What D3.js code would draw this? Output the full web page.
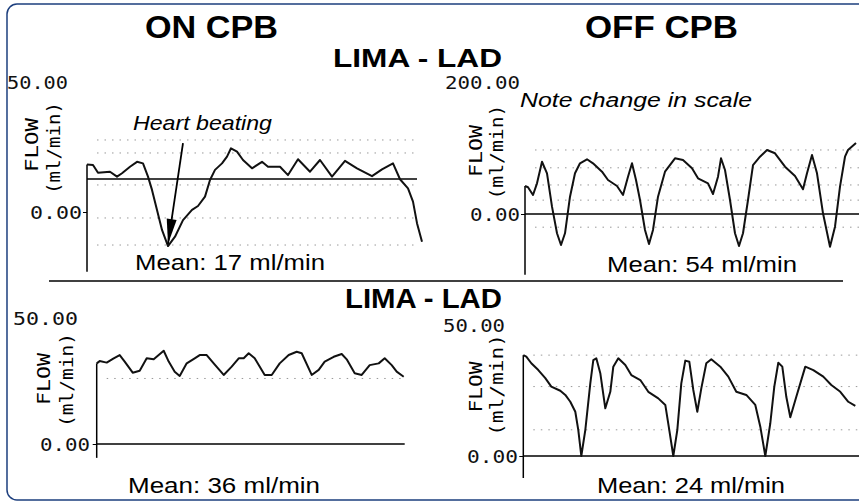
<!DOCTYPE html>
<meta charset="utf-8">
<style>
  body { margin: 0; background: #fff; }
  svg { display: block; }
  .mono { font-family: "DejaVu Sans Mono", monospace; }
  .sans { font-family: "Liberation Sans", Arial, sans-serif; }
</style>
<svg width="859" height="504"></svg>
<script src="https://cdn.jsdelivr.net/npm/d3@7"></script>
<script>

// flow traces: time in seconds, flow in ml/min
var onTopTime = [0.00,0.06,0.11,0.23,0.30,0.35,0.43,0.50,0.56,0.61,0.65,0.70,0.75,0.81,0.88,0.96,1.05,1.11,1.18,1.23,1.28,1.35,1.40,1.44,1.50,1.56,1.65,1.75,1.81,1.93,2.01,2.11,2.23,2.33,2.45,2.58,2.70,2.85,2.95,3.06,3.13,3.21,3.26,3.30,3.35],
    onTopFlow = [18.3,18.1,15.1,15.5,13.6,14.9,17.4,19.3,18.7,13.6,8.5,0.8,-6.9,-13.1,-9.5,-3.1,0.8,2.3,5.9,12.3,16.2,18.7,21.3,24.5,23.2,20.0,16.8,19.3,17.4,17.4,14.2,20.3,15.5,20.0,13.6,19.7,16.8,13.8,16.4,18.7,12.6,9.1,4.0,-4.3,-11.4];

var offTopTime = [0.00,0.03,0.08,0.12,0.17,0.22,0.27,0.32,0.36,0.40,0.45,0.50,0.55,0.62,0.68,0.77,0.83,0.92,0.98,1.03,1.07,1.11,1.15,1.20,1.24,1.28,1.33,1.40,1.50,1.58,1.67,1.73,1.83,1.88,1.93,1.96,2.00,2.05,2.10,2.14,2.18,2.23,2.28,2.35,2.42,2.50,2.60,2.70,2.78,2.82,2.87,2.92,2.98,3.05,3.10,3.15,3.20,3.23,3.31],
    offTopFlow = [42.4,40.5,28.8,46.5,79.2,61.7,11.1,-29.2,-47.0,-29.2,26.2,61.7,76.8,82.9,76.8,64.1,51.5,42.4,28.8,56.5,76.8,51.5,21.2,-24.2,-45.5,-24.2,26.2,64.1,84.4,81.8,69.2,54.1,46.5,30.3,56.5,84.4,66.7,21.2,-29.2,-48.5,-29.2,21.2,74.2,86.8,97.0,92.0,71.7,57.6,37.4,61.7,89.4,61.7,1.1,-49.5,-19.2,41.4,86.8,97.0,107.6];

var onBotTime = [0.00,0.03,0.10,0.17,0.23,0.28,0.36,0.43,0.50,0.57,0.62,0.67,0.72,0.78,0.83,0.90,0.98,1.03,1.10,1.17,1.27,1.35,1.42,1.47,1.52,1.58,1.68,1.75,1.83,1.92,2.00,2.05,2.15,2.22,2.28,2.37,2.45,2.50,2.58,2.65,2.73,2.82,2.88,2.95,3.00,3.07],
    onBotFlow = [32.0,32.9,32.3,34.0,35.3,32.7,28.3,29.1,34.0,33.6,35.3,37.0,32.7,28.7,27.0,32.0,34.0,35.3,35.3,32.0,27.4,30.7,34.0,34.0,36.0,34.0,27.4,27.4,32.0,35.3,36.6,36.0,27.4,29.4,32.7,34.6,35.7,33.6,28.1,27.4,31.3,32.0,34.0,31.3,28.7,26.7];

var offBotTime = [0.00,0.03,0.08,0.15,0.22,0.28,0.37,0.42,0.47,0.52,0.55,0.58,0.62,0.67,0.70,0.73,0.77,0.82,0.87,0.90,0.95,1.02,1.08,1.17,1.25,1.35,1.42,1.46,1.50,1.54,1.58,1.62,1.66,1.70,1.74,1.78,1.83,1.88,1.97,2.05,2.13,2.23,2.32,2.37,2.42,2.47,2.51,2.55,2.59,2.63,2.67,2.73,2.82,2.90,3.00,3.08,3.17,3.25,3.32],
    offBotFlow = [38.5,37.9,35.4,32.8,29.7,26.5,24.9,23.3,20.7,16.9,9.9,0.0,9.9,27.7,36.6,37.3,31.6,18.2,24.5,34.1,37.3,34.7,30.9,29.0,24.5,22.0,19.5,9.9,0.0,9.9,27.7,36.4,36.0,25.2,16.9,25.8,35.4,36.9,34.1,30.3,24.5,23.3,19.5,11.2,0.0,12.5,26.5,35.6,34.1,22.6,14.8,22.6,34.1,32.8,30.3,27.1,24.5,20.7,19.1];

// axis tick labels and baselines
var onTopTicks = [50, 0], offTopTicks = [200, 0], onBotTicks = [50, 0], offBotTicks = [50, 0];
var tickText = {50: "50.00", 200: "200.00", 0: "0.00"};
var baseFlow = [12.7, 0, 0, 0];          // level of the horizontal reference line
var sweepEnd = [3.30, 3.34, 3.08, 3.36]; // where that line stops (s)
var axisRange = [[18.3, -23], [42.4, -92], [32.0, -5.5], [38.5, -8.4]];
var gridFlow = [[27.7, 22.7, 10.4, -2.3, -12.7], [97, 70, 44, 21, -20], [26], [38.5, 26.5, 10]];
var means = ["Mean: 17 ml/min", "Mean: 54 ml/min", "Mean: 36 ml/min", "Mean: 24 ml/min"];

var svg = d3.select("svg");

// frame
svg.append("rect")
    .attr("x", 7).attr("y", 4).attr("width", 880).attr("height", 496)
    .attr("rx", 10).attr("fill", "none")
    .attr("stroke", "#1d3f7e").attr("stroke-width", 1.5);

var panels = [
  {time: onTopTime, flow: onTopFlow, ticks: onTopTicks, x0: 87, y: [0, 50], yr: [212, 82],
   labX: [7, 30], labW: [61, 52], flowX: 38, flowY: 145, unitX: 60, unitY: 148, flowW: 54, unitW: 92,
   meanX: 135, meanY: 270, meanW: 190},
  {time: offTopTime, flow: offTopFlow, ticks: offTopTicks, x0: 525, y: [0, 200], yr: [214, 82],
   labX: [445, 470], labW: [75, 50], flowX: 482, flowY: 151, unitX: 503, unitY: 152, flowW: 52, unitW: 95,
   meanX: 607, meanY: 272, meanW: 190},
  {time: onBotTime, flow: onBotFlow, ticks: onBotTicks, x0: 96.7, y: [0, 50], yr: [444, 318],
   labX: [13, 40], labW: [65, 50], flowX: 50, flowY: 379, unitX: 73, unitY: 380, flowW: 52, unitW: 94,
   meanX: 128, meanY: 493, meanW: 192},
  {time: offBotTime, flow: offBotFlow, ticks: offBotTicks, x0: 523.3, y: [0, 50], yr: [456, 325],
   labX: [443, 467], labW: [62, 51], flowX: 482, flowY: 387, unitX: 503, unitY: 385, flowW: 51, unitW: 102,
   meanX: 597, meanY: 493, meanW: 188}
];

panels.forEach(function(p, i) {
  var x = d3.scaleLinear().domain([0, 1]).range([p.x0, p.x0 + 100]),
      y = d3.scaleLinear().domain(p.y).range(p.yr);
  p.xs = x; p.ys = y;

  var g = svg.append("g");

  // faint dotted grid from the recorder paper
  g.selectAll(".grid")
    .data(gridFlow[i])
    .enter().append("line")
      .attr("x1", x(0.1)).attr("x2", x(sweepEnd[i]))
      .attr("y1", function(d) { return y(d); })
      .attr("y2", function(d) { return y(d); })
      .attr("stroke", "#999").attr("stroke-width", 1)
      .attr("stroke-dasharray", "1.5,6");

  // vertical axis
  g.append("line")
      .attr("x1", x(0)).attr("x2", x(0))
      .attr("y1", y(axisRange[i][0])).attr("y2", y(axisRange[i][1]))
      .attr("stroke", "#000").attr("stroke-width", 1.5);

  g.append("g")
      .attr("transform", "translate(" + x(0) + ",0)")
      .call(d3.axisLeft(y).tickValues([0]).tickSize(4).tickFormat(""))
      .call(function(a) { a.select(".domain").remove(); });

  // reference line
  g.append("line")
      .attr("x1", x(0)).attr("x2", x(sweepEnd[i]))
      .attr("y1", y(baseFlow[i])).attr("y2", y(baseFlow[i]))
      .attr("stroke", "#000").attr("stroke-width", 1.6);

  // trace
  var pts = p.time.map(function(t, k) { return {t: t, v: p.flow[k]}; });
  g.append("path")
      .datum(pts)
      .attr("fill", "none")
      .attr("stroke", "#111")
      .attr("stroke-width", 2)
      .attr("stroke-linejoin", "round")
      .attr("d", d3.line().x(function(d) { return x(d.t); }).y(function(d) { return y(d.v); }));

  // tick labels
  g.selectAll(".lab")
    .data(p.ticks)
    .enter().append("text")
      .attr("class", "mono")
      .attr("x", function(d, k) { return p.labX[k]; })
      .attr("y", function(d) { return y(d) + 6.5; })
      .attr("textLength", function(d, k) { return p.labW[k]; })
      .attr("lengthAdjust", "spacingAndGlyphs")
      .attr("font-size", 18)
      .attr("fill", "#111")
      .text(function(d) { return tickText[d]; });

  g.append("text")
      .attr("class", "mono")
      .attr("transform", "translate(" + p.flowX + "," + p.flowY + ") rotate(-90)")
      .attr("text-anchor", "middle")
      .attr("font-size", 17)
      .attr("textLength", p.flowW).attr("lengthAdjust", "spacingAndGlyphs")
      .text("FLOW");

  g.append("text")
      .attr("class", "mono")
      .attr("transform", "translate(" + p.unitX + "," + p.unitY + ") rotate(-90)")
      .attr("text-anchor", "middle")
      .attr("font-size", 17)
      .attr("textLength", p.unitW).attr("lengthAdjust", "spacingAndGlyphs")
      .text("(ml/min)");

  g.append("text")
      .attr("class", "sans")
      .attr("x", p.meanX).attr("y", p.meanY)
      .attr("font-size", 22)
      .attr("textLength", p.meanW).attr("lengthAdjust", "spacingAndGlyphs")
      .text(means[i]);
});

// separator between the two recordings
svg.append("line")
    .attr("x1", 49).attr("x2", 843).attr("y1", 281).attr("y2", 281)
    .attr("stroke", "#000").attr("stroke-width", 1.5);

// headings
function bold(txt, x, y, size, len) {
  svg.append("text").attr("class", "sans")
      .attr("x", x).attr("y", y)
      .attr("font-size", size).attr("font-weight", "bold")
      .attr("textLength", len).attr("lengthAdjust", "spacingAndGlyphs")
      .text(txt);
}
bold("ON CPB", 145, 38, 32, 133);
bold("OFF CPB", 585, 38, 32, 153);
bold("LIMA - LAD", 333, 67, 26, 169);
bold("LIMA - LAD", 345, 308, 27, 157);

// notes
svg.append("text").attr("class", "sans")
    .attr("x", 133).attr("y", 130)
    .attr("font-size", 21).attr("font-style", "italic")
    .attr("textLength", 139).attr("lengthAdjust", "spacingAndGlyphs")
    .text("Heart beating");

svg.append("text").attr("class", "sans")
    .attr("x", 520).attr("y", 107)
    .attr("font-size", 20).attr("font-style", "italic")
    .attr("textLength", 232).attr("lengthAdjust", "spacingAndGlyphs")
    .text("Note change in scale");

// arrow to the dip in the first trace
var tl = panels[0];
svg.append("defs").append("marker")
    .attr("id", "head")
    .attr("markerUnits", "userSpaceOnUse")
    .attr("viewBox", "-26 -6 27 12")
    .attr("refX", 0).attr("refY", 0)
    .attr("markerWidth", 27).attr("markerHeight", 12)
    .attr("orient", "auto")
  .append("path")
    .attr("d", "M0,0L-25,-5L-25,5Z")
    .attr("fill", "#000");

svg.append("line")
    .attr("x1", tl.xs(0.96)).attr("y1", tl.ys(26.5))
    .attr("x2", tl.xs(0.81)).attr("y2", tl.ys(-12.3))
    .attr("stroke", "#000").attr("stroke-width", 1.8)
    .attr("marker-end", "url(#head)");

</script>
